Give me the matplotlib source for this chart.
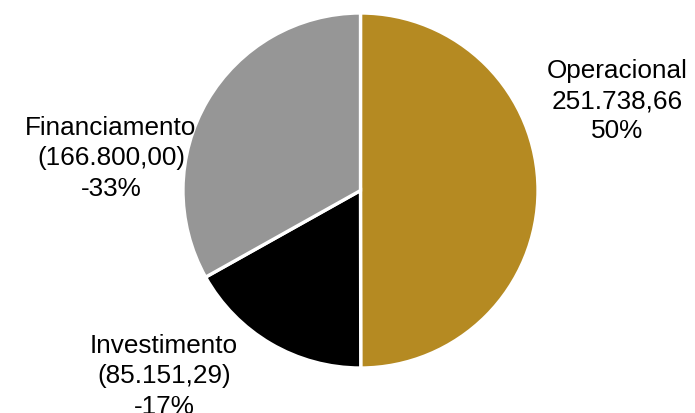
import matplotlib
matplotlib.use("Agg")
import matplotlib.pyplot as plt

categories = ["Operacional", "Investimento", "Financiamento"]
values = [251738.66, -85151.29, -166800.00]
value_labels = ["251.738,66", "(85.151,29)", "(166.800,00)"]
pct_labels = ["50%", "-17%", "-33%"]
colors = ["#B58A22", "#000000", "#969696"]

plt.rcParams['font.family'] = ['Liberation Sans', 'DejaVu Sans']

fig = plt.figure(figsize=(6.95, 4.14), dpi=100)
ax = fig.add_axes([0, 0, 1, 1])

sizes = [abs(v) for v in values]
ax.pie(sizes, colors=colors, startangle=90, counterclock=False,
       center=(360.5, 414 - 191.5), radius=177.5,
       wedgeprops=dict(edgecolor='white', linewidth=2.4))

ax.set_xlim(0, 695)
ax.set_ylim(0, 414)
ax.set_aspect('equal')
ax.axis('off')

label_pos = [(617, 414 - 101), (164, 414 - 376.5), (111, 414 - 158.5)]
for cat, vl, pl, (x, y) in zip(categories, value_labels, pct_labels, label_pos):
    ax.text(x, y, f"{cat}\n{vl}\n{pl}", ha='center', va='center',
            fontsize=18.8, linespacing=1.34, color='black')

fig.savefig("out.png", dpi=100)
